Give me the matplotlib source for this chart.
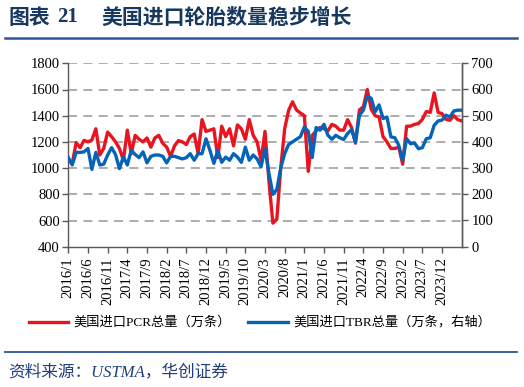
import matplotlib
matplotlib.use("Agg")
import matplotlib.pyplot as plt
import numpy as np
import pandas as pd

# 2016/1 - 2024/5, monthly
months = pd.date_range("2016-01-01", "2024-05-01", freq="MS")
month_labels = [f"{d.year}/{d.month}" for d in months]

# 美国进口PCR总量（万条）, left axis
pcr = [1060, 1035, 1195, 1156, 1212, 1200, 1215, 1300, 1100, 1150,
       1275, 1240, 1200, 1150, 1060, 1290, 1110, 1250, 1220, 1200,
       1230, 1160, 1230, 1250, 1190, 1160, 1090, 1170, 1210, 1200,
       1180, 1240, 1260, 1110, 1370, 1280, 1290, 1300, 1080, 1320,
       1240, 1300, 1170, 1330, 1300, 1220, 1370, 1250, 1200, 1060,
       1280, 900, 580, 610, 1000, 1300, 1440, 1506, 1444, 1420,
       1400, 975, 1250, 1285, 1310, 1300, 1285, 1334, 1320, 1290,
       1290, 1370, 1310, 1190, 1444, 1468, 1600, 1450, 1400, 1390,
       1240, 1200, 1150, 1150, 1160, 1030, 1320, 1320, 1334, 1340,
       1372, 1432, 1425, 1574, 1425, 1416, 1372, 1365, 1400, 1370,
       1360]

# 美国进口TBR总量（万条，右轴）, right axis
tbr = [340, 312, 360, 360, 362, 375, 295, 360, 312, 315,
       350, 378, 352, 298, 343, 312, 368, 352, 340, 362,
       320, 345, 350, 350, 345, 320, 345, 345, 340, 335,
       340, 355, 330, 355, 355, 412, 368, 318, 368, 322,
       342, 330, 355, 342, 322, 380, 330, 350, 335, 305,
       375, 280, 200, 218, 300, 355, 390, 400, 410, 420,
       457, 440, 340, 455, 445, 467, 425, 410, 425, 416,
       409, 432, 447, 400, 502, 521, 575, 566, 515, 541,
       489, 495, 419, 416, 387, 329, 412, 393, 396, 374,
       378, 412, 416, 463, 480, 483, 502, 495, 518, 521,
       521]

left_ticks = [400, 600, 800, 1000, 1200, 1400, 1600, 1800]
right_ticks = [0, 100, 200, 300, 400, 500, 600, 700]

navy = "#17375E"
red = "#E8141F"
blue = "#0563B8"
serif_cjk = ["Liberation Serif", "Noto Sans CJK SC"]

fig = plt.figure(figsize=(5.24, 3.87), dpi=100)
ax = fig.add_axes([68.3 / 524, 1 - 246.7 / 387, (461.7 - 68.3) / 524, (246.7 - 63.3) / 387])
ax2 = ax.twinx()

x = np.arange(len(months))
ax.plot(x, pcr, color=red, lw=2.4, zorder=3)
ax2.plot(x, tbr, color=blue, lw=2.4, zorder=3)

ax.set_xlim(0, len(months) - 1)
ax.set_ylim(400, 1800)
ax2.set_ylim(0, 700)
ax.set_yticks(left_ticks)
ax2.set_yticks(right_ticks)
for yv in left_ticks[1:]:
    ax.axhline(yv, color="#A6A6A6", lw=1.3, ls=(0, (5, 3.5)), zorder=1)

xt = x[:96:5]  # 2016/1 ... 2023/12
ax.set_xticks(xt)
ax.set_xticklabels([month_labels[i] for i in xt], rotation=90,
                   fontfamily="Liberation Serif", fontsize=10.5)
for lab in ax.get_yticklabels() + ax2.get_yticklabels():
    lab.set_fontfamily("Liberation Serif")
    lab.set_fontsize(10.5)

spine_c = "#595959"
for a in (ax, ax2):
    a.spines["top"].set_visible(False)
    for s in ("left", "right", "bottom"):
        a.spines[s].set_color(spine_c)
        a.spines[s].set_linewidth(1.0)
    a.tick_params(colors=spine_c, labelcolor="black", length=4, width=1.0, direction="out")
ax2.spines["left"].set_visible(False)
ax2.spines["bottom"].set_visible(False)
ax.tick_params(axis="y", pad=2)
ax2.tick_params(axis="y", pad=3)

# title
fig.text(8 / 524, 1 - 17 / 387, "图表", fontsize=15, fontweight="bold", color=navy,
         family="Noto Sans CJK SC", va="center")
fig.text(57 / 524, 1 - 17 / 387, "21", fontsize=15, fontweight="bold", color=navy,
         family="Liberation Serif", va="center")
fig.text(101 / 524, 1 - 17 / 387, "美国进口轮胎数量稳步增长", fontsize=15, fontweight="bold",
         color=navy, family="Noto Sans CJK SC", va="center")
fig.add_artist(plt.Line2D([5 / 524, 517 / 524], [1 - 38 / 387] * 2, color="#2F5597", lw=1.8))

# legend
ly = 1 - 322 / 387
fig.add_artist(plt.Line2D([29 / 524, 68 / 524], [ly, ly], color=red, lw=2.4))
fig.text(73 / 524, ly, "美国进口PCR总量（万条）", fontsize=9.5, family=serif_cjk, va="center")
fig.add_artist(plt.Line2D([248 / 524, 288 / 524], [ly, ly], color=blue, lw=2.4))
fig.text(293 / 524, ly, "美国进口TBR总量（万条，右轴）", fontsize=9.5, family=serif_cjk, va="center")

# footer
fig.add_artist(plt.Line2D([5 / 524, 517 / 524], [1 - 352 / 387] * 2, color="#2F5597", lw=1.3))
fig.text(8 / 524, 1 - 372 / 387, "资料来源：USTMA，华创证券", fontsize=12, style="italic",
         color="#1F3F7A", family=serif_cjk, va="center")

fig.savefig("out.png", dpi=100)
